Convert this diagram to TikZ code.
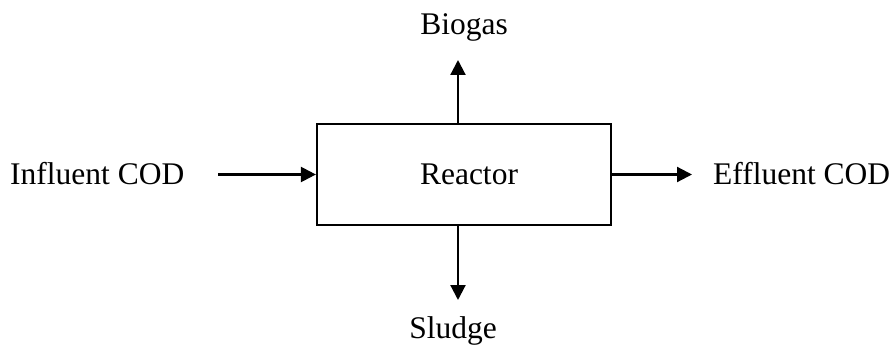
\documentclass[tikz,border=0pt]{standalone}
\usepackage{fontspec}
\setmainfont{Liberation Serif}
\usetikzlibrary{arrows.meta}
\begin{document}
\begin{tikzpicture}[x=1pt,y=1pt,
  lbl/.style={inner sep=0pt,anchor=base,font=\fontsize{31.5}{36}\selectfont},
  arr/.style={line width=2.2pt,-{Triangle[length=15pt,width=15pt]}},
  boxst/.style={draw,line width=2.2pt,minimum width=294pt,minimum height=101pt,inner sep=0pt}]
\useasboundingbox (0,0) rectangle (895,346);
\node[boxst] (box) at (464,171.5) {};
\node[lbl] (rtxt) at (469,161) {Reactor};
\node[lbl,anchor=base west] (infl) at (10,161) {Influent COD};
\node[lbl,anchor=base west] (effl) at (713,161) {Effluent COD};
\node[lbl] (bio) at (464,311) {Biogas};
\node[lbl] (slu) at (453,8) {Sludge};
\coordinate (inStart) at (218,171.5);
\coordinate (outEnd) at (692,171.5);
\coordinate (upEnd) at (458,286);
\coordinate (downEnd) at (458,46);
\draw[arr] (inStart) -- (box.west);
\draw[arr] (box.east) -- (outEnd);
\draw[arr] (upEnd |- box.north) -- (upEnd);
\draw[arr] (downEnd |- box.south) -- (downEnd);
\end{tikzpicture}
\end{document}
